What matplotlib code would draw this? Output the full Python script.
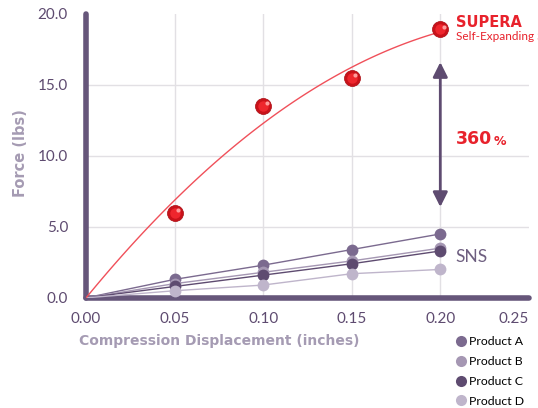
import numpy as np
import matplotlib
matplotlib.use("Agg")
import matplotlib.pyplot as plt

# data
disp = [0.05, 0.10, 0.15, 0.20]
supera = [6.0, 13.5, 15.5, 18.9]
products = ["Product A", "Product B", "Product C", "Product D"]
prod_vals = {
    "Product A": [1.3, 2.3, 3.4, 4.5],
    "Product B": [1.0, 1.8, 2.6, 3.5],
    "Product C": [0.8, 1.6, 2.4, 3.3],
    "Product D": [0.5, 0.9, 1.7, 2.0],
}
prod_colors = ["#7b6a8f", "#a597b3", "#5e4b70", "#bfb5cb"]
x_ticks = [0.0, 0.05, 0.10, 0.15, 0.20, 0.25]
y_ticks = [0.0, 5.0, 10.0, 15.0, 20.0]

axis_col = "#66567a"
label_col = "#a59bb3"
red = "#e8222c"

plt.rcParams["font.family"] = ["Lato", "DejaVu Sans"]

fig = plt.figure(figsize=(5.38, 4.08), dpi=100)
ax = fig.add_axes([0.160, 0.270, 0.823, 0.696])

# grid
for xv in x_ticks[1:-1]:
    ax.axvline(xv, color="#e2e0e4", lw=1, zorder=0)
for yv in y_ticks[1:-1]:
    ax.axhline(yv, color="#e2e0e4", lw=1, zorder=0)

# SNS products: straight segments from origin
xs = [0.0] + disp
for name, col in zip(products, prod_colors):
    ys = [0.0] + prod_vals[name]
    ax.plot(xs, ys, color=col, lw=1.0, zorder=3)
    ax.plot(disp, prod_vals[name], "o", ms=8.5, color=col, mec="none", zorder=4)

# Supera fit curve (quadratic through origin)
A = np.column_stack([disp, np.square(disp)])
coef = np.linalg.lstsq(A, np.array(supera), rcond=None)[0]
xf = np.linspace(0, 0.2, 100)
ax.plot(xf, coef[0] * xf + coef[1] * xf ** 2, color="#f0505a", lw=1.0, zorder=3)

# Supera points, fake sphere shading
ax.plot(disp, supera, "o", ms=11.5, color="#c9121a", mec="#a80a10", mew=0.5, zorder=5)
ax.plot(disp, supera, "o", ms=7.5, color="#ee262d", mec="none", zorder=6)
ax.plot(np.array(disp) + 0.002, np.array(supera) + 0.2, "o", ms=3,
        color="#ff9c9c", mec="none", zorder=7)

# double arrow between curves
ax.annotate("", xy=(0.20, 16.6), xytext=(0.20, 6.4),
            arrowprops=dict(arrowstyle="<|-|>", color="#5e4b70", lw=2,
                            mutation_scale=22, shrinkA=0, shrinkB=0), zorder=4)
t360 = ax.text(0.2086, 11.2, "360", color=red, fontsize=12.5, fontweight="bold",
               family="DejaVu Sans", va="center", ha="left")
ax.annotate("%", xy=(1.0, 0.0), xytext=(1, 0), xycoords=t360,
            textcoords="offset points", color=red, fontsize=9,
            fontweight="bold", family="DejaVu Sans", va="bottom", ha="left")
ax.text(0.2084, 2.85, "SNS", color="#6e5f80", fontsize=12.5, va="center", ha="left")

ax.text(0.2086, 19.1, "SUPERA", color=red, fontsize=10.5, fontweight="bold",
        family="DejaVu Sans", ha="left", va="baseline", clip_on=False)
ax.text(0.2088, 18.15, "Self-Expanding Stent", color=red, fontsize=8.5,
        ha="left", va="baseline", clip_on=False)

ax.set_xlim(0, 0.25)
ax.set_ylim(0, 20)
ax.set_xticks(x_ticks)
ax.set_xticklabels([f"{v:.2f}" for v in x_ticks])
ax.get_xticklabels()[-1].set_ha("right")
ax.set_yticks(y_ticks)
ax.set_yticklabels([f"{v:.1f}" for v in y_ticks])
ax.tick_params(length=0, colors="#5e4b70", labelsize=11)
ax.tick_params(axis="x", pad=10)
ax.tick_params(axis="y", pad=13)

for s in ["top", "right"]:
    ax.spines[s].set_visible(False)
for s in ["left", "bottom"]:
    ax.spines[s].set_color(axis_col)
    ax.spines[s].set_linewidth(4)
    ax.spines[s].set_capstyle("round")

ax.set_xlabel("Compression Displacement (inches)", color=label_col,
              fontsize=10, fontweight="bold", family="DejaVu Sans")
ax.xaxis.set_label_coords(0.30, -0.128)
ax.set_ylabel("Force (lbs)", color=label_col, fontsize=10.5,
              fontweight="bold", family="DejaVu Sans")
ax.yaxis.set_label_coords(-0.131, 0.51)

handles = [plt.Line2D([], [], marker="o", ls="none", ms=8, color=c, mec="none")
           for c in prod_colors]
fig.legend(handles, products, loc="upper left", bbox_to_anchor=(0.843, 0.176),
           frameon=False, fontsize=8.8, handletextpad=0.1, labelspacing=0.72,
           handlelength=1.2, borderaxespad=0, borderpad=0)

fig.savefig("out.png", dpi=100)
